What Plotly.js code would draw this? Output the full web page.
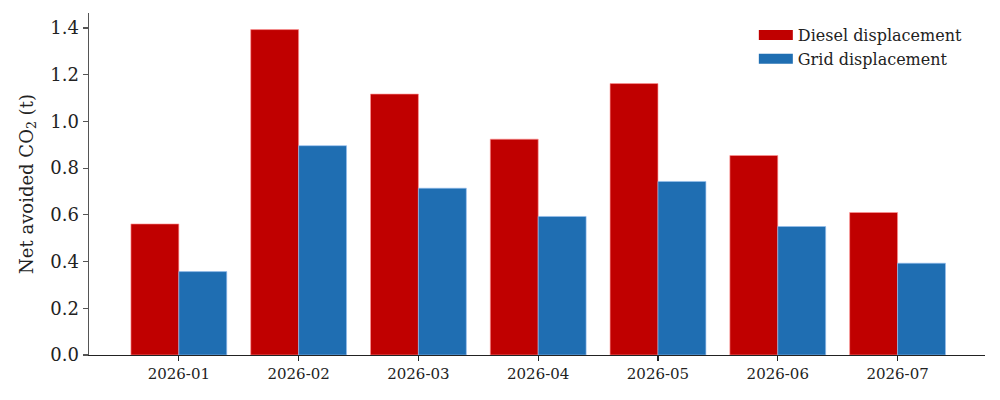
<!DOCTYPE html>
<html>
<head>
<meta charset="utf-8">
<script src="https://cdn.plot.ly/plotly-3.0.1.min.js"></script>
<style>html,body{margin:0;padding:0;background:#fff;}#chart{width:1000px;height:400px;}</style>
</head>
<body>
<div id="chart"></div>
<script>
const months = ["2026-01","2026-02","2026-03","2026-04","2026-05","2026-06","2026-07"];
const dieselValues = [0.561, 1.393, 1.117, 0.924, 1.162, 0.854, 0.610];
const gridValues = [0.357, 0.896, 0.714, 0.593, 0.743, 0.550, 0.393];
const seriesNames = ["Diesel displacement", "Grid displacement"];
const yTicks = [0, 0.2, 0.4, 0.6, 0.8, 1.0, 1.2, 1.4];
const yTickLabels = ["0.0","0.2","0.4","0.6","0.8","1.0","1.2","1.4"];

const red = "#c00000";
const blue = "#1f6eb2";
const font = "DejaVu Serif, serif";

const traces = [
  {type:"bar", x:months, y:dieselValues, name:seriesNames[0], marker:{color:red, line:{width:0.8, color:"rgba(255,150,150,0.8)"}}, showlegend:false},
  {type:"bar", x:months, y:gridValues, name:seriesNames[1], marker:{color:blue, line:{width:0.8, color:"rgba(150,190,240,0.8)"}}, showlegend:false},
  {type:"scatter", mode:"lines", x:[null], y:[null], name:seriesNames[0], line:{color:red, width:12}, hoverinfo:"skip"},
  {type:"scatter", mode:"lines", x:[null], y:[null], name:seriesNames[1], line:{color:blue, width:12}, hoverinfo:"skip"}
];

const layout = {
  width:1000, height:400,
  margin:{l:89, r:15, t:13, b:45, pad:0},
  paper_bgcolor:"#fff", plot_bgcolor:"#fff",
  barmode:"group", bargap:0.2, bargroupgap:0,
  font:{family:font, color:"#222"},
  xaxis:{
    type:"category", range:[-0.75, 6.73],
    showgrid:false, zeroline:false,
    showline:true, linecolor:"#222", linewidth:1.2,
    ticks:"outside", ticklen:5, tickcolor:"#222", tickwidth:1.2,
    tickfont:{family:font, size:15, color:"#222"}
  },
  yaxis:{
    range:[0, 1.464],
    tickvals:yTicks, ticktext:yTickLabels,
    showgrid:false, zeroline:false,
    showline:true, linecolor:"#555", linewidth:1.5,
    ticks:"outside", ticklen:5, tickcolor:"#555", tickwidth:1.2,
    tickfont:{family:font, size:18, color:"#222"},
    title:{text:"Net avoided CO<sub>2</sub> (t)", font:{family:font, size:18, color:"#222"}, standoff:12}
  },
  legend:{
    x:0.742, y:0.985, xanchor:"left", yanchor:"top",
    bgcolor:"rgba(0,0,0,0)",
    font:{family:font, size:16, color:"#222"},
    itemwidth:34
  },
  showlegend:true
};

Plotly.newPlot("chart", traces, layout, {displayModeBar:false, staticPlot:true});
</script>
</body>
</html>
